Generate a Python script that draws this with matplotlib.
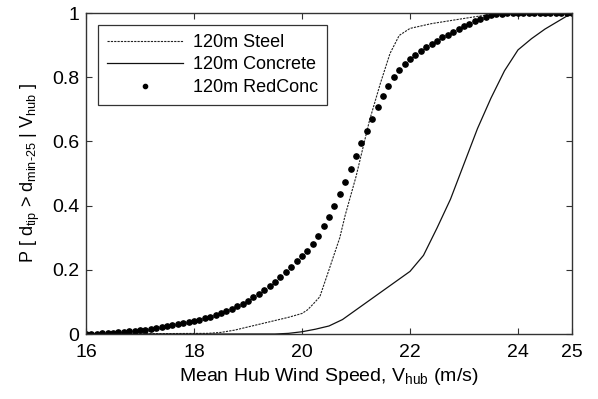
import numpy as np
import matplotlib
matplotlib.use('Agg')
import matplotlib.pyplot as plt

plt.rcParams['font.family'] = ['Liberation Sans', 'DejaVu Sans']
plt.rcParams['mathtext.default'] = 'regular'

# Curva de concreto (linha continua)
v_concrete = [16.0, 19.5, 19.75, 20.0, 20.25, 20.5, 20.75, 21.0, 21.25, 21.5, 21.75,
              22.0, 22.25, 22.5, 22.75, 23.0, 23.25, 23.5, 23.75, 24.0, 24.25,
              24.5, 24.75, 25.0]
p_concrete = [0.0, 0.0, 0.002, 0.007, 0.015, 0.025, 0.045, 0.075, 0.105, 0.135, 0.165,
              0.195, 0.245, 0.33, 0.42, 0.53, 0.64, 0.735, 0.82, 0.885, 0.92,
              0.95, 0.975, 1.0]

# Curva de aco (tracejada)
v_steel = [16.0, 18.25, 18.5, 18.75, 19.0, 19.25, 19.5, 19.75, 20.0, 20.1, 20.2,
           20.33, 20.5, 20.7, 20.8, 20.9, 21.0, 21.25, 21.45, 21.63, 21.8,
           22.0, 22.4, 23.0, 23.5, 24.0, 25.0]
p_steel = [0.0, 0.002, 0.005, 0.012, 0.022, 0.032, 0.042, 0.052, 0.064, 0.075, 0.092,
           0.116, 0.2, 0.3, 0.37, 0.43, 0.49, 0.665, 0.78, 0.874, 0.93,
           0.952, 0.967, 0.983, 0.996, 1.0, 1.0]

# Concreto reduzido (pontos a cada 0.1 m/s)
v_redconc = np.round(np.arange(16.0, 25.01, 0.1), 1)
p_redconc = [0.000, 0.001, 0.001, 0.002, 0.003, 0.004, 0.005, 0.007, 0.008, 0.010,
             0.012, 0.014, 0.016, 0.018, 0.021, 0.024, 0.027, 0.030, 0.033, 0.037,
             0.040, 0.044, 0.049, 0.054, 0.059, 0.065, 0.072, 0.079, 0.087, 0.095,
             0.104, 0.114, 0.125, 0.137, 0.150, 0.163, 0.177, 0.193, 0.209, 0.226,
             0.244, 0.260, 0.280, 0.305, 0.335, 0.365, 0.398, 0.435, 0.475, 0.515,
             0.555, 0.594, 0.633, 0.671, 0.707, 0.742, 0.773, 0.801, 0.823, 0.841,
             0.857, 0.870, 0.882, 0.893, 0.904, 0.914, 0.924, 0.933, 0.942, 0.951,
             0.959, 0.967, 0.975, 0.982, 0.988, 0.993, 0.996, 0.998, 0.999, 1.000,
             1.000, 1.000, 1.000, 1.000, 1.000, 1.000, 1.000, 1.000, 1.000, 1.000,
             1.000]

x_ticks = [16, 18, 20, 22, 24, 25]
y_ticks = [0, 0.2, 0.4, 0.6, 0.8, 1]
y_tick_labels = ['0', '0.2', '0.4', '0.6', '0.8', '1']

fig = plt.figure(figsize=(5.98, 3.99), dpi=100)
ax = fig.add_axes([0.1438, 0.1629, 0.8127, 0.8045])

ax.plot(v_steel, p_steel, color='#222222', linestyle=(0, (2, 1)), linewidth=0.8,
        label='120m Steel')
ax.plot(v_concrete, p_concrete, color='#111111', linestyle='-', linewidth=0.9,
        label='120m Concrete')
ax.plot(v_redconc, p_redconc, color='black', linestyle='none', marker='o',
        markersize=3.8, label='120m RedConc')

ax.set_xlim(16, 25)
ax.set_ylim(0, 1)
ax.set_xticks(x_ticks)
ax.set_yticks(y_ticks)
ax.set_yticklabels(y_tick_labels)
ax.tick_params(direction='in', top=True, right=True, labelsize=14, length=4,
               color='#333333')
ax.tick_params(axis='x', pad=7)
ax.tick_params(axis='y', pad=5)
for s in ax.spines.values():
    s.set_color('#333333')
    s.set_linewidth(1.0)

ax.set_xlabel('Mean Hub Wind Speed, V$_{hub}$ (m/s)', fontsize=14, labelpad=4)
ax.set_ylabel('P [ d$_{tip}$ > d$_{min\u201025}$ | V$_{hub}$ ]', fontsize=13, labelpad=7)

leg = ax.legend(loc='upper left', bbox_to_anchor=(0.0247, 0.9626), fontsize=13,
                frameon=True, fancybox=False, edgecolor='black', handlelength=4.2,
                borderpad=0.5, labelspacing=0.3, handletextpad=0.55, borderaxespad=0,
                markerscale=0.8)
leg.get_frame().set_linewidth(0.9)

fig.savefig('out.png', dpi=100)
